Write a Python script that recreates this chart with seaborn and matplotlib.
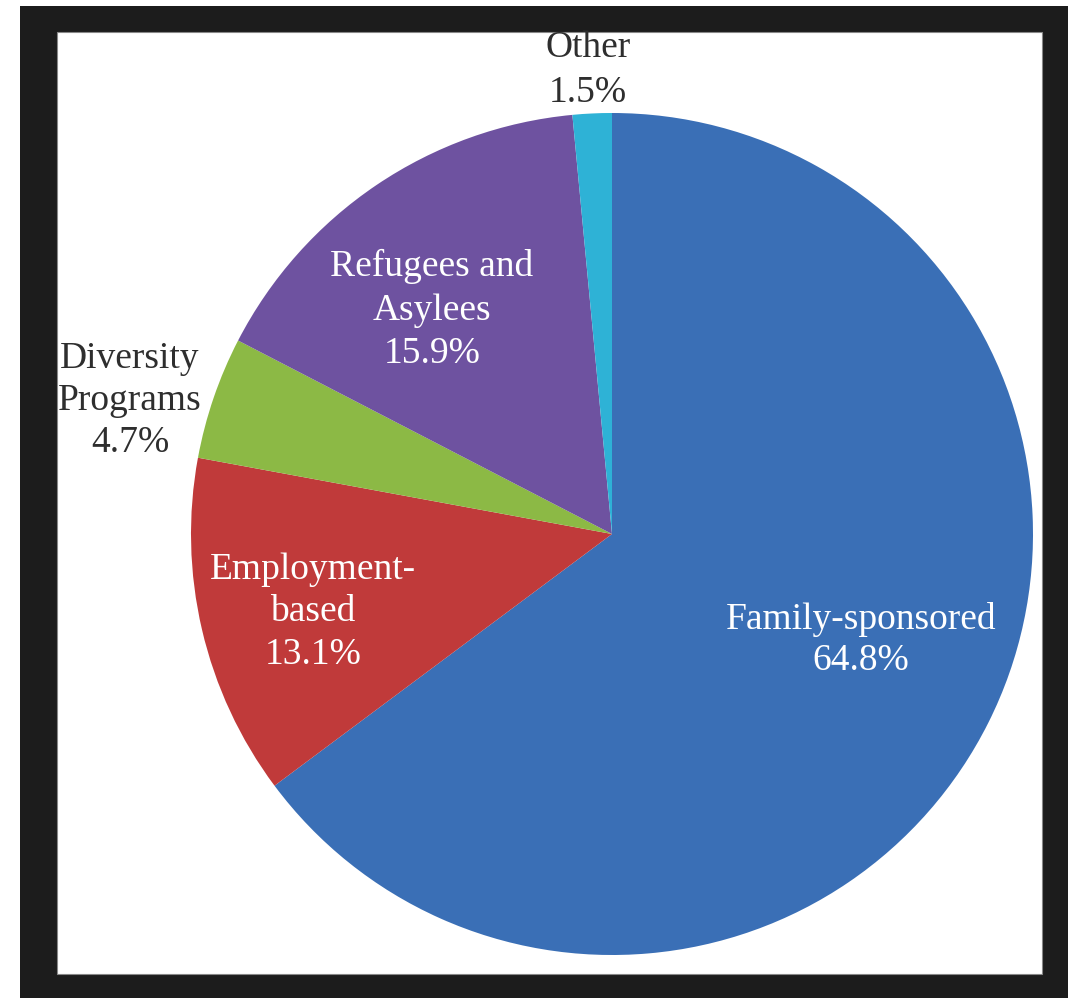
import matplotlib
matplotlib.use("Agg")
import matplotlib.pyplot as plt
from matplotlib.patches import Rectangle
import seaborn as sns

# Data
categories = ["Family-sponsored", "Employment-based", "Diversity Programs",
              "Refugees and Asylees", "Other"]
shares = [64.8, 13.1, 4.7, 15.9, 1.5]
label_texts = ["Family-sponsored\n64.8%", "Employment-\nbased\n13.1%",
               "Diversity\nPrograms\n4.7%", "Refugees and\nAsylees\n15.9%",
               "Other\n1.5%"]
colors = ["#3a6fb6", "#c03a3a", "#8cb945", "#6e52a0", "#2eb2d6"]
label_colors = ["white", "white", "#2e2e2e", "white", "#2e2e2e"]
# label positions (pixel layout, y measured from top)
label_pos = [(861, 640), (313, 612), (130, 401), (432, 310), (588, 70)]
label_spacing = [1.22, 1.3, 1.28, 1.33, 1.4]

sns.set_theme(style="white")
plt.rcParams["font.family"] = ["Liberation Serif", "DejaVu Serif"]

W, H = 1073, 998
fig = plt.figure(figsize=(W / 100, H / 100), dpi=100)
fig.patch.set_facecolor("white")
ax = fig.add_axes([0, 0, 1, 1])

# black frame
ax.add_patch(Rectangle((20, 0), 1048, 992, facecolor="#1c1c1c", edgecolor="none", zorder=0))
ax.add_patch(Rectangle((57, H - 974), 985, 942, facecolor="white",
                       edgecolor="#888888", linewidth=0.8, zorder=0.5))

ax.pie(shares, colors=colors, startangle=90, counterclock=False,
       center=(612, H - 534), radius=421, frame=True,
       wedgeprops=dict(linewidth=0, zorder=1))
ax.set_xlim(0, W)
ax.set_ylim(0, H)
ax.set_axis_off()

for txt, (x, y), c, ls in zip(label_texts, label_pos, label_colors, label_spacing):
    ax.text(x, H - y, txt, ha="center", va="center", fontsize=27,
            color=c, linespacing=ls, zorder=3)

fig.savefig("out.png", dpi=100)
